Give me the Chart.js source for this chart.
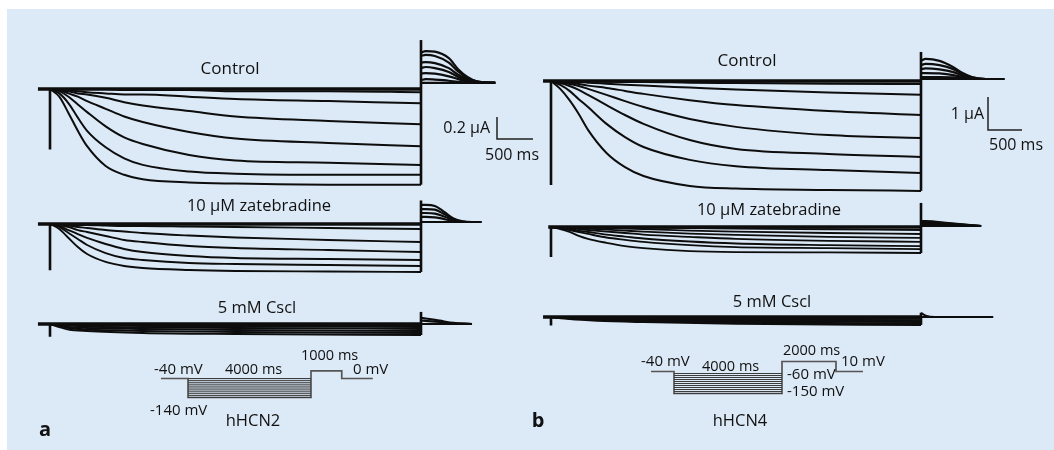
<!DOCTYPE html>
<html><head><meta charset="utf-8">
<script src="https://cdn.jsdelivr.net/npm/chart.js@4.4.1/dist/chart.umd.min.js"></script>
<style>html,body{margin:0;padding:0;background:#fff}canvas{display:block}</style>
</head><body>
<canvas id="c" width="1054" height="450"></canvas>
<script>
// ---------------- DATA ----------------
// times in ms, currents in µA, voltages in mV
const timeStep = [0,100,200,300,400,600,800,1000,1500,2000,3000,4000];

// hHCN2 (panel a)
const controlA = [
  [0,0,0,0,0,0,-0.01,-0.01,-0.01,-0.02,-0.02,-0.03],
  [0,0,-0.01,-0.02,-0.03,-0.04,-0.05,-0.05,-0.07,-0.09,-0.11,-0.13],
  [0,-0.01,-0.02,-0.04,-0.05,-0.08,-0.12,-0.15,-0.20,-0.25,-0.29,-0.32],
  [0,-0.01,-0.04,-0.07,-0.11,-0.18,-0.25,-0.30,-0.39,-0.45,-0.49,-0.52],
  [0,-0.02,-0.07,-0.14,-0.21,-0.34,-0.44,-0.50,-0.60,-0.65,-0.67,-0.69],
  [0,-0.04,-0.13,-0.26,-0.38,-0.53,-0.63,-0.69,-0.75,-0.77,-0.78,-0.78],
  [0,-0.07,-0.22,-0.38,-0.52,-0.70,-0.78,-0.82,-0.85,-0.86,-0.87,-0.87]
];
const tailTimeA = [4000,4050,4150,4300,4400,4500,4600,4700,4800];
const tailControlA = [
  [0.33,0.345,0.34,0.28,0.18,0.11,0.07,0.06,0.055],
  [0.30,0.31,0.30,0.24,0.16,0.10,0.07,0.06,0.055],
  [0.24,0.245,0.235,0.19,0.13,0.09,0.065,0.06,0.055],
  [0.19,0.20,0.19,0.155,0.11,0.08,0.062,0.057,0.055],
  [0.14,0.145,0.14,0.115,0.09,0.07,0.06,0.055,0.055],
  [0.08,0.09,0.085,0.075,0.065,0.06,0.055,0.055,0.055],
  [0.055,0.055,0.055,0.055,0.055,0.055,0.055,0.055,0.055]
];
const zatA = [
  [0,0,-0.005,-0.009,-0.009,-0.014,-0.018,-0.018,-0.023,-0.027,-0.036,-0.045],
  [0,-0.005,-0.014,-0.027,-0.036,-0.055,-0.068,-0.082,-0.105,-0.123,-0.145,-0.164],
  [0,-0.009,-0.027,-0.055,-0.073,-0.109,-0.145,-0.164,-0.2,-0.218,-0.236,-0.255],
  [0,-0.018,-0.055,-0.091,-0.127,-0.182,-0.227,-0.255,-0.291,-0.309,-0.318,-0.327],
  [0,-0.027,-0.082,-0.136,-0.191,-0.264,-0.309,-0.327,-0.355,-0.364,-0.373,-0.382],
  [0,-0.045,-0.127,-0.209,-0.273,-0.345,-0.382,-0.4,-0.418,-0.427,-0.432,-0.436]
];
const tailTimeZatA = [4000,4050,4150,4250,4350,4450,4550,4650];
const tailZatA = [
  [0.173,0.173,0.164,0.11,0.05,0.025,0.018,0.018],
  [0.136,0.136,0.13,0.09,0.045,0.02,0.018,0.018],
  [0.1,0.1,0.095,0.068,0.035,0.02,0.018,0.018],
  [0.064,0.064,0.06,0.045,0.025,0.018,0.018,0.018],
  [0.018,0.018,0.018,0.018,0.018,0.018,0.018,0.018]
];
const timeCsA = [0,100,200,400,1000,2000,4000];
const csA = [
  [0,0,-0.005,-0.005,-0.009,-0.009,-0.014],
  [0,-0.005,-0.009,-0.014,-0.018,-0.023,-0.027],
  [0,-0.009,-0.014,-0.023,-0.032,-0.036,-0.045],
  [0,-0.014,-0.027,-0.036,-0.045,-0.055,-0.064],
  [0,-0.018,-0.036,-0.05,-0.064,-0.073,-0.082],
  [0,-0.027,-0.05,-0.064,-0.082,-0.091,-0.1]
];
const tailTimeCsA = [4000,4050,4200,4350,4550];
const tailCsA = [
  [0.055,0.05,0.03,0.01,0],
  [0.03,0.028,0.018,0.006,0],
  [0,0,0,0,0]
];
// onset transient, tail-step peak, pre-pulse start (per row: control, zatebradine, CsCl)
const onsetA = [-0.55,-0.42,-0.115];
const peakA = [0.445,0.214,0.11];
const preA = [-130,-130,-130];

// hHCN4 (panel b)
const controlB = [
  [0,0,0,-0.01,-0.01,-0.02,-0.03,-0.03,-0.05,-0.06,-0.08,-0.09],
  [0,0,-0.02,-0.03,-0.05,-0.08,-0.11,-0.14,-0.2,-0.26,-0.35,-0.42],
  [0,-0.02,-0.05,-0.09,-0.14,-0.21,-0.3,-0.39,-0.58,-0.73,-0.91,-1.03],
  [0,-0.03,-0.09,-0.15,-0.24,-0.42,-0.61,-0.79,-1.15,-1.39,-1.64,-1.73],
  [0,-0.06,-0.15,-0.27,-0.42,-0.73,-1.03,-1.3,-1.79,-2.06,-2.21,-2.3],
  [0,-0.12,-0.3,-0.55,-0.79,-1.3,-1.7,-2.0,-2.39,-2.58,-2.7,-2.79],
  [0,-0.24,-0.58,-1.0,-1.48,-2.18,-2.61,-2.88,-3.18,-3.26,-3.3,-3.33]
];
const tailTimeB = [4000,4050,4200,4350,4450,4550,4700,4900];
const tailControlB = [
  [0.61,0.67,0.61,0.42,0.24,0.12,0.06,0.06],
  [0.48,0.52,0.48,0.36,0.21,0.11,0.06,0.06],
  [0.36,0.38,0.35,0.27,0.17,0.09,0.06,0.06],
  [0.24,0.24,0.23,0.18,0.12,0.08,0.06,0.06],
  [0.12,0.12,0.12,0.11,0.08,0.06,0.06,0.06],
  [0.06,0.06,0.06,0.06,0.06,0.06,0.06,0.06]
];
const zatB = [
  [0,0,0,0,0,-0.01,-0.01,-0.02,-0.03,-0.05,-0.07,-0.09],
  [0,0,0,-0.02,-0.02,-0.03,-0.05,-0.06,-0.11,-0.14,-0.18,-0.21],
  [0,0,-0.02,-0.03,-0.05,-0.08,-0.11,-0.14,-0.2,-0.24,-0.3,-0.33],
  [0,-0.01,-0.03,-0.06,-0.09,-0.14,-0.18,-0.23,-0.3,-0.36,-0.42,-0.45],
  [0,-0.02,-0.06,-0.11,-0.15,-0.23,-0.29,-0.35,-0.44,-0.5,-0.55,-0.58],
  [0,-0.03,-0.09,-0.15,-0.21,-0.32,-0.39,-0.45,-0.55,-0.61,-0.64,-0.67],
  [0,-0.06,-0.15,-0.27,-0.36,-0.48,-0.58,-0.64,-0.73,-0.76,-0.77,-0.79]
];
const tailTimeZatB = [4000,4050,4300,4650];
const tailZatB = [
  [0.18,0.18,0.12,0.03],
  [0.15,0.15,0.10,0.03],
  [0.12,0.12,0.08,0.03],
  [0.07,0.07,0.05,0.03],
  [0.03,0.03,0.03,0.03]
];
const timeCsB = [0,200,500,1000,2000,4000];
const csB = [
  [0,-0.01,-0.02,-0.03,-0.04,-0.05],
  [0,-0.02,-0.04,-0.06,-0.08,-0.1],
  [0,-0.03,-0.06,-0.09,-0.12,-0.15],
  [0,-0.04,-0.08,-0.11,-0.16,-0.2],
  [0,-0.06,-0.11,-0.15,-0.2,-0.24]
];
const tailTimeCsB = [4000,4060,4150,4780];
const tailCsB = [
  [0.12,0.03,0,0],
  [0,0,0,0]
];
const onsetB = [-3.15,-0.91,-0.26];
const peakB = [0.88,0.73,0.13];
const preB = [-86,-30,-86];

// voltage protocols
const protoTimeA = [-880,0,0,4000,4000,5000,5000,6010];
const protoVoltA = [-40,-40,-140,-140,0,0,-40,-40];
const stepLevelsA = [-40,-50,-60,-70,-80,-90,-100,-110,-120,-130,-140];
const protoTimeB = [-850,0,0,4000,4000,6000,6000,7000];
const protoVoltB = [-40,-40,-150,-150,10,10,-40,-40];
const stepLevelsB = [-50,-60,-70,-80,-90,-100,-110,-120,-130,-140,-150];

// ---------------- LAYOUT ----------------
const W = 1054, H = 450;
function xRange(px0, ppu){ const min = -px0/ppu; return {min:min, max:min + W/ppu}; }
function yRange(py0, ppu, v0){ const max = (v0||0) + py0/ppu; return {min:max - H/ppu, max:max}; }
function ax(axis, r){ return Object.assign({axis:axis, type:'linear', display:false, bounds:'data', grace:0}, r); }

const scales = {
  xa: ax('x', xRange(50, 0.09275)),
  xb: ax('x', xRange(551, 0.0925)),
  ya1: ax('y', yRange(89, 110)),
  ya2: ax('y', yRange(224, 110)),
  ya3: ax('y', yRange(324, 110)),
  yb1: ax('y', yRange(81, 33)),
  yb2: ax('y', yRange(227, 33)),
  yb3: ax('y', yRange(317, 33)),
  xpa: ax('x', xRange(188, 0.03075)),
  ypa: ax('y', yRange(378.5, 0.19, -40)),
  xpb: ax('x', xRange(674, 0.027)),
  ypb: ax('y', yRange(371.5, 0.2, -40))
};

const INK = '#0d0d0d';
const GREY = '#555';
function line(pts, xID, yID, w, color, smooth){
  return {data:pts, xAxisID:xID, yAxisID:yID, borderColor:color||INK, backgroundColor:color||INK,
    borderWidth:w, pointRadius:0, showLine:true, fill:false, tension:0,
    cubicInterpolationMode: smooth ? 'monotone' : 'default', borderCapStyle:'butt', clip:false};
}
function traceSet(times, series, xID, yID, w){
  return series.map(s => line(times.map((t,i)=>({x:t, y:s[i]})), xID, yID, w, INK, true));
}
const datasets = [];
function row(xID, yID, times, series, tTimes, tSeries, onset, peak, pre, w){
  const last = series[series.length-1][series[series.length-1].length-1];
  datasets.push(line([{x:pre,y:0},{x:0,y:0}], xID, yID, 3.5));
  datasets.push(line([{x:0,y:0},{x:0,y:onset}], xID, yID, 2.6));
  datasets.push(...traceSet(times, series, xID, yID, w));
  datasets.push(line([{x:0,y:0},{x:4000,y:0}], xID, yID, 3.5));
  datasets.push(line([{x:4000,y:last},{x:4000,y:peak}], xID, yID, 2.6));
  datasets.push(...traceSet(tTimes, tSeries, xID, yID, 2.2));
}
row('xa','ya1', timeStep, controlA, tailTimeA, tailControlA, onsetA[0], peakA[0], preA[0], 2);
row('xa','ya2', timeStep, zatA, tailTimeZatA, tailZatA, onsetA[1], peakA[1], preA[1], 1.9);
row('xa','ya3', timeCsA, csA, tailTimeCsA, tailCsA, onsetA[2], peakA[2], preA[2], 1.9);
row('xb','yb1', timeStep, controlB, tailTimeB, tailControlB, onsetB[0], peakB[0], preB[0], 2);
row('xb','yb2', timeStep, zatB, tailTimeZatB, tailZatB, onsetB[1], peakB[1], preB[1], 1.9);
row('xb','yb3', timeCsB, csB, tailTimeCsB, tailCsB, onsetB[2], peakB[2], preB[2], 2.2);

// protocols
stepLevelsA.forEach(v => datasets.push(line([{x:0,y:v},{x:4000,y:v}], 'xpa','ypa', 1, '#3c3c3c')));
datasets.push(line(protoTimeA.map((t,i)=>({x:t,y:protoVoltA[i]})), 'xpa','ypa', 1.7, GREY));
stepLevelsB.forEach(v => datasets.push(line([{x:0,y:v},{x:4000,y:v}], 'xpb','ypb', 1, '#3c3c3c')));
datasets.push(line(protoTimeB.map((t,i)=>({x:t,y:protoVoltB[i]})), 'xpb','ypb', 1.7, GREY));

// ---------------- TEXT & DECOR ----------------
const FONT = "'Open Sans', 'Noto Sans', sans-serif";
const texts = [
  {t:'Control', x:230, y:69, s:17, a:'center'},
  {t:'10 µM zatebradine', x:259, y:206, s:16.5, a:'center'},
  {t:'5 mM Cscl', x:257, y:308, s:16.5, a:'center'},
  {t:'Control', x:747, y:61, s:17, a:'center'},
  {t:'10 µM zatebradine', x:769, y:210, s:16.5, a:'center'},
  {t:'5 mM Cscl', x:772, y:302, s:16.5, a:'center'},
  {t:'0.2 µA', x:490, y:128, s:16, a:'right'},
  {t:'500 ms', x:485, y:155, s:16, a:'left'},
  {t:'1 µA', x:984, y:114, s:16, a:'right'},
  {t:'500 ms', x:989, y:145, s:16, a:'left'},
  {t:'-40 mV', x:154, y:370, s:15, a:'left'},
  {t:'4000 ms', x:225, y:370, s:14.5, a:'left'},
  {t:'1000 ms', x:301, y:356, s:14.5, a:'left'},
  {t:'0 mV', x:353, y:370, s:15, a:'left'},
  {t:'-140 mV', x:150, y:411, s:15, a:'left'},
  {t:'hHCN2', x:253, y:421, s:16.5, a:'center'},
  {t:'a', x:45, y:430, s:20, a:'center', b:true},
  {t:'-40 mV', x:641, y:362, s:15, a:'left'},
  {t:'4000 ms', x:702, y:367, s:14.5, a:'left'},
  {t:'2000 ms', x:783, y:351, s:14.5, a:'left'},
  {t:'10 mV', x:841, y:362, s:15, a:'left'},
  {t:'-60 mV', x:787, y:375, s:15, a:'left'},
  {t:'-150 mV', x:787, y:392, s:15, a:'left'},
  {t:'hHCN4', x:740, y:421, s:16.5, a:'center'},
  {t:'b', x:538, y:421, s:20, a:'center', b:true}
];
const scaleBars = [
  {x:497, y0:117, y1:139, x1:533},
  {x:988, y0:97, y1:130, x1:1022}
];
const decor = {
  id:'decor',
  beforeDraw(chart){
    const c = chart.ctx;
    c.save();
    c.fillStyle = '#ffffff'; c.fillRect(0,0,W,H);
    c.fillStyle = '#dce9f6'; c.fillRect(7,9,W-7,H-9);
    c.restore();
  },
  afterDraw(chart){
    const c = chart.ctx;
    c.save();
    c.strokeStyle = '#222'; c.lineWidth = 1.5;
    scaleBars.forEach(b => {
      c.beginPath(); c.moveTo(b.x, b.y0); c.lineTo(b.x, b.y1); c.lineTo(b.x1, b.y1); c.stroke();
    });
    c.fillStyle = '#111'; c.textBaseline = 'middle';
    texts.forEach(o => {
      c.font = (o.b ? 'bold ' : '') + o.s + 'px ' + FONT;
      c.textAlign = o.a;
      c.fillText(o.t, o.x, o.y);
    });
    c.restore();
  }
};

new Chart(document.getElementById('c'), {
  type:'scatter',
  data:{datasets:datasets},
  options:{
    responsive:false, animation:false, devicePixelRatio:1, events:[],
    layout:{padding:0},
    scales:scales,
    plugins:{legend:{display:false}, tooltip:{enabled:false}}
  },
  plugins:[decor]
});
</script>
</body></html>
